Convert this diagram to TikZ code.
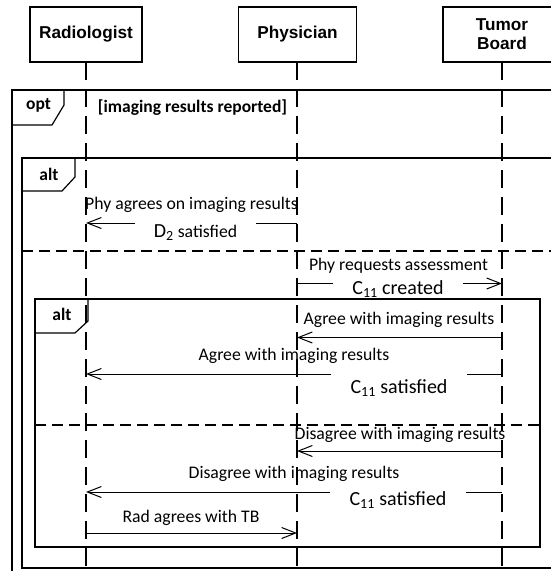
\documentclass[tikz,border=0pt]{standalone}
\usepackage{fontspec}
\setmainfont{Carlito}
\newfontfamily\actorfont{Liberation Sans}
\usetikzlibrary{arrows.meta}

\tikzset{
  actor/.style={draw,line width=1.2bp,minimum width=118bp,minimum height=55bp,
    align=center,inner sep=0pt,font=\actorfont\bfseries\fontsize{17.2bp}{19bp}\selectfont},
  lifeline/.style={line width=2bp,dash pattern=on 18bp off 9bp},
  frame/.style={line width=1.2bp},
  fragsep/.style={line width=2bp,dash pattern=on 10.5bp off 6.5bp},
  tag/.style={anchor=base,inner sep=0pt,font=\bfseries\fontsize{17.5bp}{20bp}\selectfont},
  msg/.style={line width=1bp},
  msgtxt/.style={anchor=base,inner sep=0pt,font=\fontsize{17.7bp}{20bp}\selectfont},
  condtxt/.style={anchor=base,inner ysep=0pt,inner xsep=19bp,font=\fontsize{20bp}{22bp}\selectfont},
}

\begin{document}
\begin{tikzpicture}[x=1bp,y=-1bp,>={Straight Barb[length=14bp,width=11bp]}]
\useasboundingbox (0,0) rectangle (551,571);

% combined fragments
\draw[frame] (12,90) rectangle (620,620);
\draw[frame] (12,90) -- (64,90) -- (64,105) -- (52,125) -- (12,125);
\draw[frame] (22,158) rectangle (620,568);
\draw[frame] (22,158) -- (75,158) -- (75,177) -- (62,191) -- (22,191);
\draw[frame] (35,299) rectangle (540,547);
\draw[frame] (35,299) -- (88,299) -- (88,321) -- (75,333) -- (35,333);
\draw[fragsep] (22,250.5) -- (620,250.5);
\draw[fragsep] (35,425) -- (540,425);

\node[tag] (opt) at (38.5,110) {opt};
\node[tag] (guard) at (192.5,113) {[imaging results reported]};
\node[tag] (alt1) at (49,180.5) {alt};
\node[tag] (alt2) at (62,320) {alt};

% participants
\node[actor,minimum width=112bp] (rad) at (86,34.5) {Radiologist};
\node[actor] (phy) at (297.5,34.5) {Physician};
\node[actor] (tb) at (502,34.5) {Tumor\\Board};

\coordinate (radend) at (86,580);
\coordinate (phyend) at (297,580);
\coordinate (tbend) at (502,580);
\draw[lifeline] (86,62) -- (radend);
\draw[lifeline] (297,62) -- (phyend);
\draw[lifeline] (502,62) -- (tbend);

% messages
\coordinate (m1a) at (297,223);
\coordinate (m1b) at (86,223);
\node[msgtxt] (l1) at (191.5,209) {Phy agrees on imaging results};
\node[condtxt] (c1) at (195.5,237) {D\textsubscript{2}\fontsize{17.7bp}{20bp}\selectfont\ satisfied};
\draw[msg] (m1a) -- (m1a -| c1.east);
\draw[msg,->] (m1a -| c1.west) -- (m1b);

\coordinate (m2a) at (297,283.5);
\coordinate (m2b) at (502,283.5);
\node[msgtxt] (l2) at (398.5,270) {Phy requests assessment};
\node[condtxt] (c2) at (398,294) {C\textsubscript{11} created};
\draw[msg] (m2a) -- (m2a -| c2.west);
\draw[msg,->] (m2a -| c2.east) -- (m2b);

\coordinate (m3a) at (502,337.5);
\coordinate (m3b) at (297,337.5);
\node[msgtxt] (l3) at (399,324) {Agree with imaging results};
\draw[msg,->] (m3a) -- (m3b);

\coordinate (m4a) at (502,374);
\coordinate (m4b) at (86,374);
\node[msgtxt] (l4) at (294,360) {Agree with imaging results};
\node[condtxt] (c4) at (399,393) {C\textsubscript{11} satisfied};
\draw[msg] (m4a) -- (m4a -| c4.east);
\draw[msg,->] (m4a -| c4.west) -- (m4b);

\coordinate (m5a) at (502,451);
\coordinate (m5b) at (297,451);
\node[msgtxt] (l5) at (400,439) {Disagree with imaging results};
\draw[msg,->] (m5a) -- (m5b);

\coordinate (m6a) at (502,492);
\coordinate (m6b) at (86,492);
\node[msgtxt] (l6) at (294,478) {Disagree with imaging results};
\node[condtxt] (c6) at (398,505) {C\textsubscript{11} satisfied};
\draw[msg] (m6a) -- (m6a -| c6.east);
\draw[msg,->] (m6a -| c6.west) -- (m6b);

\coordinate (m7a) at (86,533);
\coordinate (m7b) at (297,533);
\node[msgtxt] (l7) at (191,522) {Rad agrees with TB};
\draw[msg,->] (m7a) -- (m7b);

\end{tikzpicture}
\end{document}
